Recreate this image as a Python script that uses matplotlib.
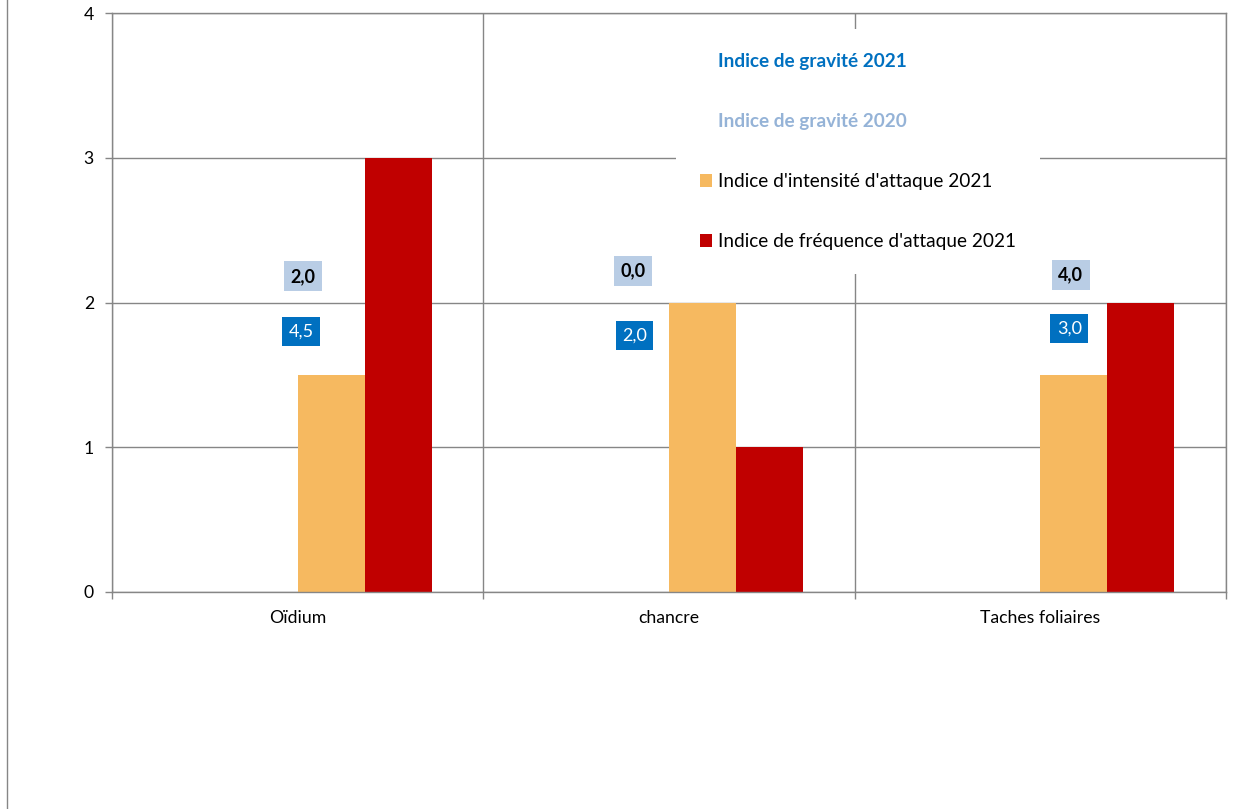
import matplotlib
matplotlib.use("Agg")
import matplotlib.pyplot as plt
import numpy as np
from matplotlib.lines import Line2D
from matplotlib.ticker import FixedLocator

plt.rcParams['font.family'] = ['Lato', 'DejaVu Sans']

categories = ["Oïdium", "chancre", "Taches foliaires"]
gravite_2021 = [4.5, 2.0, 3.0]
gravite_2020 = [2.0, 0.0, 4.0]
intensite_2021 = [1.5, 2.0, 1.5]
frequence_2021 = [3.0, 1.0, 2.0]

# where each gravité label box sits (category offset, height on the axis)
pos_2021 = [(0.010, 1.80), (-0.093, 1.77), (0.078, 1.82)]
pos_2020 = [(0.015, 2.18), (-0.097, 2.22), (0.082, 2.19)]

GRID = '#868686'
ORANGE = '#F6B960'
RED = '#C00000'
BLUE = '#0070C0'
LIGHT = '#B9CDE5'

W, H = 1250, 809
fig = plt.figure(figsize=(W / 100, H / 100), dpi=100)
ax = fig.add_axes([112 / W, 1 - 592 / H, (1226 - 112) / W, (592 - 13) / H])

x = np.arange(len(categories))
w = 0.1806

# the gravité series carry no fill; only their labels show
ax.bar(x - 1.5 * w, gravite_2021, w, color='none', edgecolor='none',
       label='Indice de gravité 2021')
ax.bar(x - 0.5 * w, gravite_2020, w, color='none', edgecolor='none',
       label='Indice de gravité 2020')
ax.bar(x + 0.5 * w, intensite_2021, w, color=ORANGE, edgecolor='none',
       label="Indice d'intensité d'attaque 2021", zorder=2)
ax.bar(x + 1.5 * w, frequence_2021, w, color=RED, edgecolor='none',
       label="Indice de fréquence d'attaque 2021", zorder=2)

ax.set_xlim(-0.5, len(categories) - 0.5)
ax.set_ylim(0, 4)
ax.set_yticks([0, 1, 2, 3, 4])
ax.set_xticks(x)
ax.set_xticklabels(categories)
ax.xaxis.set_minor_locator(FixedLocator(np.arange(-0.5, len(categories), 1.0)))

ax.set_axisbelow(True)
ax.grid(axis='y', which='major', color=GRID, lw=1)
ax.grid(axis='x', which='minor', color=GRID, lw=1)
ax.tick_params(axis='x', which='major', length=0, pad=13, labelsize=12.7)
ax.tick_params(axis='x', which='minor', length=5, width=1, color=GRID, direction='out')
ax.tick_params(axis='y', which='major', length=5, width=1, color=GRID,
               direction='out', pad=8, labelsize=12.7)
for s in ax.spines.values():
    s.set_color(GRID)
    s.set_linewidth(1)

# gravité labels in coloured boxes
for i, (v, (dx, y)) in enumerate(zip(gravite_2021, pos_2021)):
    ax.text(i + dx, y, f"{v:.1f}".replace('.', ','), ha='center', va='center',
            fontsize=13, color='white', zorder=4,
            bbox=dict(boxstyle='square,pad=0.36', fc=BLUE, ec='none'))
for i, (v, (dx, y)) in enumerate(zip(gravite_2020, pos_2020)):
    ax.text(i + dx, y, f"{v:.1f}".replace('.', ','), ha='center', va='center',
            fontsize=13, color='black', fontweight='bold', zorder=4,
            bbox=dict(boxstyle='square,pad=0.36', fc=LIGHT, ec='none'))

leg = ax.legend(loc='upper left', bbox_to_anchor=(676 / W, 1 - 29 / H),
                bbox_transform=fig.transFigure, fontsize=13.7,
                frameon=True, facecolor='white', edgecolor='none', framealpha=1,
                fancybox=False, borderpad=1.25, labelspacing=2.27,
                handlelength=0.65, handleheight=0.65, handletextpad=0.3,
                borderaxespad=0)
leg.set_zorder(5)
texts = leg.get_texts()
texts[0].set_color(BLUE)
texts[0].set_fontweight('bold')
texts[1].set_color('#95B3D7')
texts[1].set_fontweight('bold')

# outer frame line on the left edge
fig.add_artist(Line2D([7 / W, 7 / W], [0, 1], transform=fig.transFigure,
                      color=GRID, lw=1))

fig.savefig("out.png", dpi=100, facecolor='white')
